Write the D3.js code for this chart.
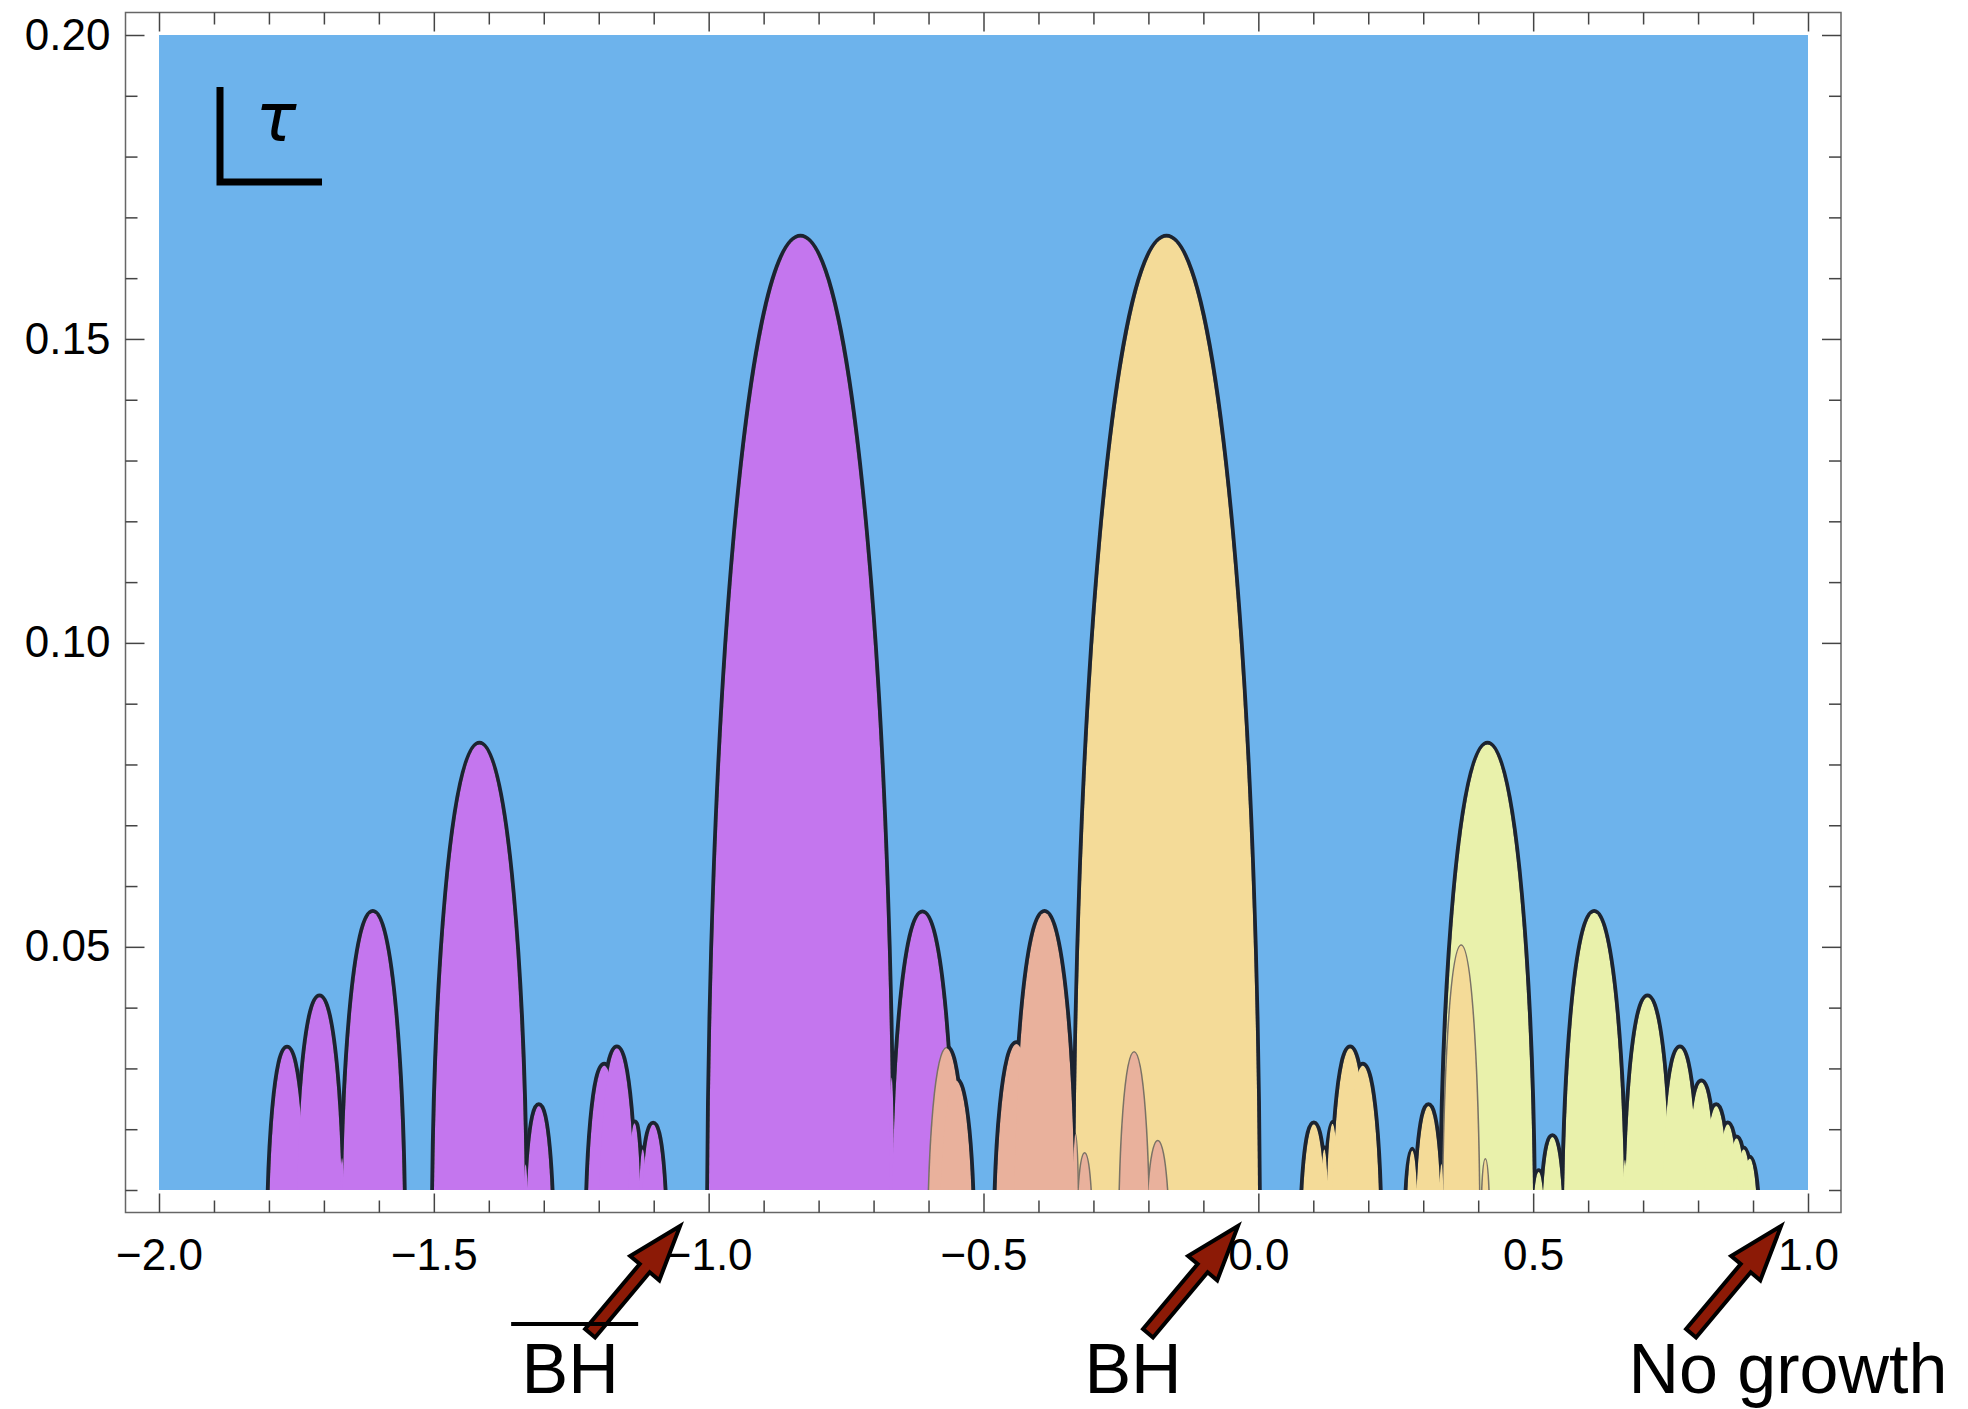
<!DOCTYPE html>
<html>
<head>
<meta charset="utf-8">
<script src="https://cdn.jsdelivr.net/npm/d3@7"></script>
<style>
  body { margin: 0; background: #fff; }
</style>
</head>
<body>
<div id="chart"></div>
<script>
// each peak is [centre x, height tau, half width]
// the big ones are plain semicircles (height == half width)
var purplePeaks = [
    [-1.767, 0.0333, 0.0333],
    [-1.708, 0.0417, 0.0417],
    [-1.667, 0.0153, 0.005],
    [-1.611, 0.0556, 0.0556],
    [-1.417, 0.0833, 0.0833],
    [-1.333, 0.0143, 0.005],
    [-1.309, 0.0238, 0.0238],
    [-1.190, 0.0305, 0.031],
    [-1.167, 0.0333, 0.0333],
    [-1.135, 0.0210, 0.012],
    [-1.120, 0.0167, 0.008],
    [-1.101, 0.0208, 0.022],
    [-0.833, 0.1667, 0.1667],
    [-0.667, 0.0285, 0.005],
    [-0.611, 0.0556, 0.0556]
];
var salmonPeaks = [
    [-0.567, 0.0333, 0.0333],
    [-0.550, 0.0280, 0.030],
    [-0.440, 0.0340, 0.038],
    [-0.389, 0.0556, 0.0556],
    [-0.333, 0.0192, 0.005],
    [-0.316, 0.0160, 0.0135],
    [-0.226, 0.0326, 0.027],
    [-0.183, 0.0180, 0.020]
];
var yellowPeaks = [
    [-0.167, 0.1667, 0.1667],
    [0.101, 0.0208, 0.022],
    [0.120, 0.0167, 0.008],
    [0.135, 0.0210, 0.012],
    [0.167, 0.0333, 0.0333],
    [0.190, 0.0305, 0.031],
    [0.280, 0.0165, 0.011],
    [0.3095, 0.0238, 0.0238],
    [0.333, 0.0143, 0.005],
    [0.369, 0.0502, 0.033],
    [0.413, 0.0150, 0.007]
];
var greenPeaks = [
    [0.417, 0.0833, 0.0833],
    [0.510, 0.0130, 0.012],
    [0.535, 0.0187, 0.020],
    [0.611, 0.0556, 0.0556],
    [0.667, 0.0150, 0.005],
    [0.708, 0.0417, 0.0417],
    [0.767, 0.0333, 0.0333],
    [0.806, 0.0278, 0.0278],
    [0.833, 0.0238, 0.0238],
    [0.854, 0.0208, 0.0208],
    [0.870, 0.0185, 0.0185],
    [0.883, 0.0167, 0.0167],
    [0.894, 0.0152, 0.0152]
];

var xMajor = [-2.0, -1.5, -1.0, -0.5, 0.0, 0.5, 1.0];
var yMajor = [0.05, 0.10, 0.15, 0.20];

var noteLabels = ['BH', 'BH', 'No growth'];
var noteTips = [-1.052, -0.037, 0.951];   // where the arrow points (x)
var noteText = [-1.252, -0.228, 0.9635];  // label centre (x)
var noteBar = [true, false, false];

var W = 1968, H = 1409;
var frame = {left: 125.5, right: 1841, top: 12.5, bottom: 1212.5};

var x = d3.scaleLinear().domain([-2, 1]).range([159, 1808]);
var y = d3.scaleLinear().domain([0.01, 0.2]).range([1190, 35]);

var svg = d3.select('#chart').append('svg')
    .attr('width', W)
    .attr('height', H);

var defs = svg.append('defs');
defs.append('clipPath').attr('id', 'plot')
    .append('rect')
    .attr('x', x(-2)).attr('y', y(0.2))
    .attr('width', x(1) - x(-2)).attr('height', y(0.01) - y(0.2));

// half ellipse standing on tau = 0, the bit below 0.01 is clipped away
function peakPath(d) {
    var c = d[0], h = d[1], w = d[2];
    var rx = x(c + w) - x(c);
    var ry = y(0) - y(h);
    return 'M' + x(c - w) + ',' + y(0) +
        'A' + rx + ',' + ry + ' 0 0 1 ' + x(c + w) + ',' + y(0) + 'Z';
}

var layers = [
    {peaks: greenPeaks, fill: '#e9f1ab'},
    {peaks: yellowPeaks, fill: '#f4db98'},
    {peaks: purplePeaks, fill: '#c476ee'},
    {peaks: salmonPeaks, fill: '#e9b19c'}
];
var allPeaks = layers.reduce(function (acc, l) { return acc.concat(l.peaks); }, []);

svg.append('rect')
    .attr('x', x(-2)).attr('y', y(0.2))
    .attr('width', x(1) - x(-2)).attr('height', y(0.01) - y(0.2))
    .attr('fill', '#6db3ec');

var regions = svg.append('g').attr('clip-path', 'url(#plot)');
layers.forEach(function (l) {
    // thin edge: stroke first, fill on top, only the outer half stays
    regions.append('g').selectAll('path')
        .data(l.peaks).enter().append('path')
        .attr('d', peakPath)
        .attr('fill', 'none')
        .attr('stroke', '#7a7266')
        .attr('stroke-width', 3);
    regions.append('g').selectAll('path')
        .data(l.peaks).enter().append('path')
        .attr('d', peakPath)
        .attr('fill', l.fill);
});

// thick dark outline round the union of everything
var mask = defs.append('mask').attr('id', 'outside');
mask.append('rect').attr('width', W).attr('height', H).attr('fill', 'white');
mask.selectAll('path').data(allPeaks).enter().append('path')
    .attr('d', peakPath).attr('fill', 'black');

svg.append('g')
    .attr('clip-path', 'url(#plot)')
    .append('g')
    .attr('mask', 'url(#outside)')
    .selectAll('path')
    .data(allPeaks).enter().append('path')
    .attr('d', peakPath)
    .attr('fill', 'none')
    .attr('stroke', '#1c2431')
    .attr('stroke-width', 7.5);

// frame + inward ticks on all four sides
svg.append('rect')
    .attr('x', frame.left).attr('y', frame.top)
    .attr('width', frame.right - frame.left).attr('height', frame.bottom - frame.top)
    .attr('fill', 'none').attr('stroke', '#666').attr('stroke-width', 1.5);

var xMinor = d3.range(-20, 11).filter(function (i) { return i % 5 !== 0; }).map(function (i) { return i / 10; });
var yMinor = d3.range(1, 20).filter(function (i) { return i % 5 !== 0; }).map(function (i) { return i / 100; });

function styleAxis(g) {
    g.select('.domain').remove();
    g.selectAll('line').attr('stroke', '#444').attr('stroke-width', 1.5);
    g.attr('font-family', '"Liberation Sans", Arial, sans-serif').attr('font-size', 44);
    g.selectAll('text').attr('fill', '#000');
}

svg.append('g').attr('transform', 'translate(0,' + frame.bottom + ')')
    .call(d3.axisBottom(x).tickValues(xMinor).tickSize(-12).tickFormat('')).call(styleAxis);
svg.append('g').attr('transform', 'translate(0,' + frame.bottom + ')')
    .call(d3.axisBottom(x).tickValues(xMajor).tickSize(-19).tickPadding(26).tickFormat(d3.format('.1f'))).call(styleAxis);
svg.append('g').attr('transform', 'translate(0,' + frame.top + ')')
    .call(d3.axisTop(x).tickValues(xMinor).tickSize(-12).tickFormat('')).call(styleAxis);
svg.append('g').attr('transform', 'translate(0,' + frame.top + ')')
    .call(d3.axisTop(x).tickValues(xMajor).tickSize(-19).tickFormat('')).call(styleAxis);

svg.append('g').attr('transform', 'translate(' + frame.left + ',0)')
    .call(d3.axisLeft(y).tickValues(yMinor).tickSize(-12).tickFormat('')).call(styleAxis);
svg.append('g').attr('transform', 'translate(' + frame.left + ',0)')
    .call(d3.axisLeft(y).tickValues(yMajor).tickSize(-19).tickPadding(15).tickFormat(d3.format('.2f'))).call(styleAxis);
svg.append('g').attr('transform', 'translate(' + frame.right + ',0)')
    .call(d3.axisRight(y).tickValues(yMinor).tickSize(-12).tickFormat('')).call(styleAxis);
svg.append('g').attr('transform', 'translate(' + frame.right + ',0)')
    .call(d3.axisRight(y).tickValues(yMajor).tickSize(-19).tickFormat('')).call(styleAxis);

// little tau corner in the top left
svg.append('path')
    .attr('d', 'M220,87V182H322')
    .attr('fill', 'none').attr('stroke', '#000').attr('stroke-width', 7);
svg.append('text')
    .attr('x', 276).attr('y', 141)
    .attr('text-anchor', 'middle')
    .attr('font-family', '"DejaVu Sans", sans-serif')
    .attr('font-style', 'italic')
    .attr('font-size', 68)
    .text('τ');

// arrows and labels under the axis
var arrowLen = 140, shaft = 6.5, headLen = 55, headHalf = 19;
var arrowPts = [[-arrowLen, -shaft], [-headLen, -shaft], [-headLen, -headHalf], [0, 0],
    [-headLen, headHalf], [-headLen, shaft], [-arrowLen, shaft]];
var notes = svg.append('g');
noteLabels.forEach(function (label, i) {
    notes.append('polygon')
        .attr('points', arrowPts.map(function (p) { return p.join(','); }).join(' '))
        .attr('transform', 'translate(' + x(noteTips[i]) + ',1226) rotate(-50)')
        .attr('fill', '#8c1a06').attr('stroke', '#000').attr('stroke-width', 4)
        .attr('stroke-linejoin', 'miter');
    notes.append('text')
        .attr('x', x(noteText[i])).attr('y', 1393)
        .attr('text-anchor', 'middle')
        .attr('font-family', '"Liberation Sans", Arial, sans-serif')
        .attr('font-size', 70)
        .text(label);
    if (noteBar[i]) {
        notes.append('line')
            .attr('x1', x(noteText[i]) - 59).attr('x2', x(noteText[i]) + 68)
            .attr('y1', 1324).attr('y2', 1324)
            .attr('stroke', '#000').attr('stroke-width', 4);
    }
});
</script>
</body>
</html>
